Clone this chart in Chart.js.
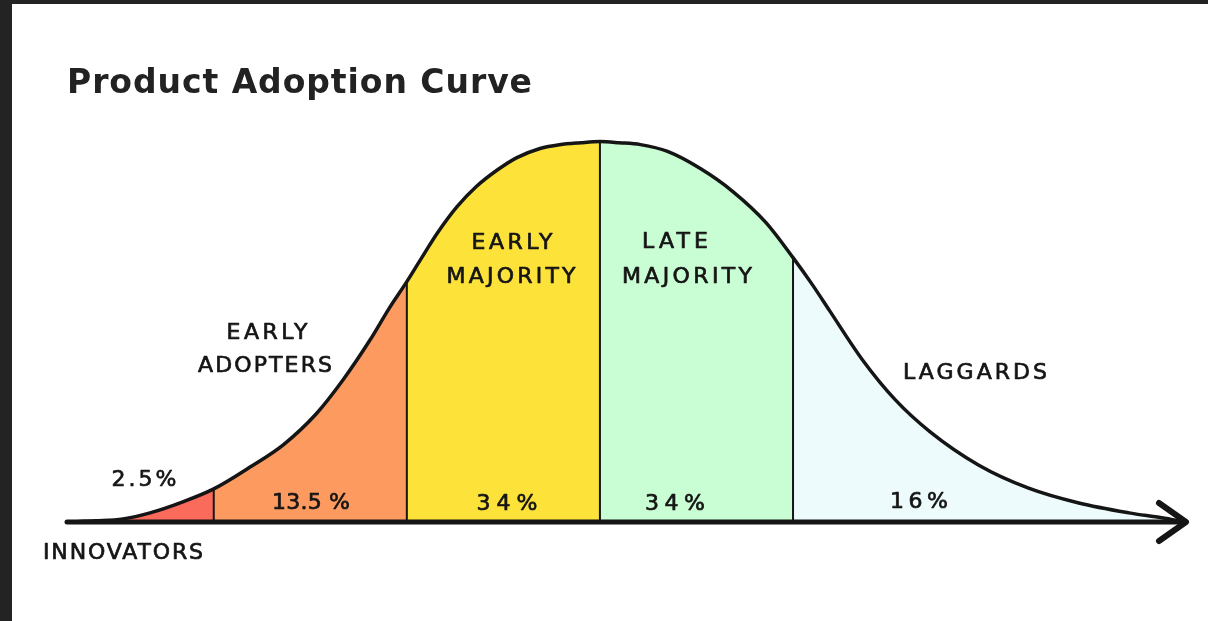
<!DOCTYPE html>
<html>
<head>
<meta charset="utf-8">
<script src="https://cdn.jsdelivr.net/npm/chart.js@4.4.1/dist/chart.umd.min.js"></script>
<style>
  html, body { margin: 0; padding: 0; background: #ffffff; }
  #frame { width: 1208px; height: 621px; box-sizing: border-box; border-top: 4px solid #232323; border-left: 12px solid #232323; background: #ffffff; overflow: hidden; }
  canvas { display: block; }
</style>
</head>
<body>
<div id="frame"><canvas id="c" width="1196" height="617"></canvas></div>
<script>
// ---- data (x in standard deviations from the mean, y = relative height, peak = 100)
const curveX = [-2.76, -2.61, -2.47, -2.33, -2.16, -2.0, -1.81, -1.64, -1.47, -1.33, -1.19, -1.09, -1.0, -0.93, -0.84, -0.74, -0.64, -0.53, -0.43, -0.31, -0.21, -0.10, 0, 0.10, 0.21, 0.35, 0.52, 0.69, 0.86, 1.0, 1.10, 1.19, 1.36, 1.53, 1.71, 1.96, 2.22, 2.48, 2.74, 2.91, 3.03];
const curveY = [0, 0.3, 0.8, 2.4, 5.3, 8.7, 14.5, 20.3, 28.4, 37.4, 47.9, 56.3, 63.2, 68.9, 76.1, 82.9, 88.2, 92.6, 95.8, 98.2, 99.2, 99.7, 100, 99.7, 99.2, 97.4, 92.9, 86.8, 78.7, 69.5, 62.4, 55.5, 42.6, 32.1, 23.7, 15.0, 8.9, 5.0, 2.4, 1.1, 0];
const segmentBounds = [-2.76, -2, -1, 0, 1, 3.03];
const segmentNames = ["INNOVATORS", "EARLY ADOPTERS", "EARLY MAJORITY", "LATE MAJORITY", "LAGGARDS"];
const segmentShares = ["2.5%", "13.5 %", "34%", "34%", "16%"];
const chartTitle = "Product Adoption Curve";

// ---- styles
const segmentColors = ["#fa6b5c", "#fd9a60", "#fde23a", "#c9fdd3", "#eefbfd"];
const ink = "#151515";
const TITLE_WIDTH = 465;

// label placement (page pixels: centre x, centre y, width of the lettering)
const nameLayout = [
  { lines: ["INNOVATORS"], x: [123], y: [553], w: [160] },
  { lines: ["EARLY", "ADOPTERS"], x: [267, 265], y: [333, 366], w: [81, 134] },
  { lines: ["EARLY", "MAJORITY"], x: [512, 511], y: [243, 277], w: [81, 129] },
  { lines: ["LATE", "MAJORITY"], x: [675, 687], y: [242, 277], w: [66, 130] },
  { lines: ["LAGGARDS"], x: [975], y: [373], w: [144] }
];
const shareLayout = [
  { x: 144, y: 480, w: 65 }, { x: 311, y: 503, w: 78 }, { x: 507, y: 504, w: 61 }, { x: 675, y: 504, w: 60 }, { x: 919, y: 502, w: 58 }
];
const OFFX = 12, OFFY = 4;

function curveAt(x) {
  const i = curveX.indexOf(x);
  return i >= 0 ? curveY[i] : 0;
}

const datasets = [];
for (let s = 0; s < segmentNames.length; s++) {
  const lo = segmentBounds[s], hi = segmentBounds[s + 1];
  const pts = [];
  curveX.forEach((x, i) => { if (x >= lo && x <= hi) pts.push({ x: x, y: curveY[i] }); });
  datasets.push({
    label: segmentNames[s],
    data: pts,
    backgroundColor: segmentColors[s],
    borderWidth: 0,
    borderColor: 'rgba(0,0,0,0)',
    fill: 'origin',
    pointRadius: 0,
    cubicInterpolationMode: 'monotone',
    order: 3
  });
}
segmentBounds.slice(1, -1).forEach(b => {
  datasets.push({
    label: 'sep',
    data: [{ x: b, y: 0 }, { x: b, y: curveAt(b) }],
    borderColor: ink,
    borderWidth: 2,
    fill: false,
    pointRadius: 0,
    order: 2
  });
});
datasets.push({
  label: 'curve',
  data: curveX.map((x, i) => ({ x: x, y: curveY[i] })),
  borderColor: ink,
  borderWidth: 3.5,
  fill: false,
  pointRadius: 0,
  cubicInterpolationMode: 'monotone',
  borderCapStyle: 'round',
  clip: false,
  order: 1
});

function drawFitted(ctx, text, cx, cy, w) {
  ctx.letterSpacing = '0px';
  const natural = ctx.measureText(text).width;
  const n = text.length;
  const sp = n > 1 ? (w - natural) / (n - 1) : 0;
  ctx.letterSpacing = sp + 'px';
  ctx.textAlign = 'left';
  const x = cx - w / 2;
  ctx.fillText(text, x, cy);
  ctx.strokeText(text, x, cy);
}

const TITLE_FONT = { family: '"DejaVu Sans"', weight: 'bold', size: 33 };

const decorPlugin = {
  id: 'decor',
  beforeDraw(chart) {
    // fit the title lettering to the width of the original
    const ctx = chart.ctx;
    ctx.font = 'bold 33px "DejaVu Sans"';
    ctx.letterSpacing = '0px';
    const natural = ctx.measureText(chartTitle).width;
    ctx.letterSpacing = ((TITLE_WIDTH - natural) / (chartTitle.length - 1)) + 'px';
  },
  beforeDatasetsDraw(chart) {
    chart.ctx.letterSpacing = '0px';
  },
  afterDatasetsDraw(chart) {
    const ctx = chart.ctx;
    const xs = chart.scales.x, ys = chart.scales.y;
    const x0 = xs.getPixelForValue(segmentBounds[0]);
    const x1 = xs.getPixelForValue(segmentBounds[segmentBounds.length - 1]);
    const y0 = ys.getPixelForValue(0);
    ctx.save();
    ctx.strokeStyle = ink;
    ctx.lineCap = 'round';
    ctx.lineJoin = 'round';
    ctx.lineWidth = 5;
    ctx.beginPath();
    ctx.moveTo(x0, y0);
    ctx.lineTo(x1, y0);
    ctx.stroke();
    ctx.lineWidth = 6;
    ctx.beginPath();
    ctx.moveTo(x1 - 26, y0 - 19);
    ctx.lineTo(x1 + 1, y0);
    ctx.lineTo(x1 - 26, y0 + 19);
    ctx.stroke();

    // text labels
    ctx.fillStyle = ink;
    ctx.strokeStyle = ink;
    ctx.lineWidth = 0.7;
    ctx.textBaseline = 'middle';
    ctx.font = '22px "DejaVu Sans"';
    nameLayout.forEach(n => {
      n.lines.forEach((t, k) => drawFitted(ctx, t, n.x[k] - OFFX, n.y[k] - OFFY, n.w[k]));
    });
    segmentShares.forEach((t, i) => {
      drawFitted(ctx, t, shareLayout[i].x - OFFX, shareLayout[i].y - OFFY, shareLayout[i].w);
    });
    ctx.letterSpacing = '0px';
    ctx.restore();
  }
};

new Chart(document.getElementById('c'), {
  type: 'line',
  data: { datasets: datasets },
  options: {
    responsive: false,
    animation: false,
    devicePixelRatio: 1,
    layout: { padding: { left: 55, right: 23, top: 0, bottom: 99 } },
    scales: {
      x: { type: 'linear', min: segmentBounds[0], max: segmentBounds[segmentBounds.length - 1], display: false },
      y: { min: 0, max: 100, display: false }
    },
    plugins: {
      legend: { display: false },
      tooltip: { enabled: false },
      title: {
        display: true,
        text: chartTitle,
        align: 'start',
        color: '#222222',
        font: TITLE_FONT,
        padding: { top: 61, bottom: 37 }
      }
    }
  },
  plugins: [decorPlugin]
});
</script>
</body>
</html>
